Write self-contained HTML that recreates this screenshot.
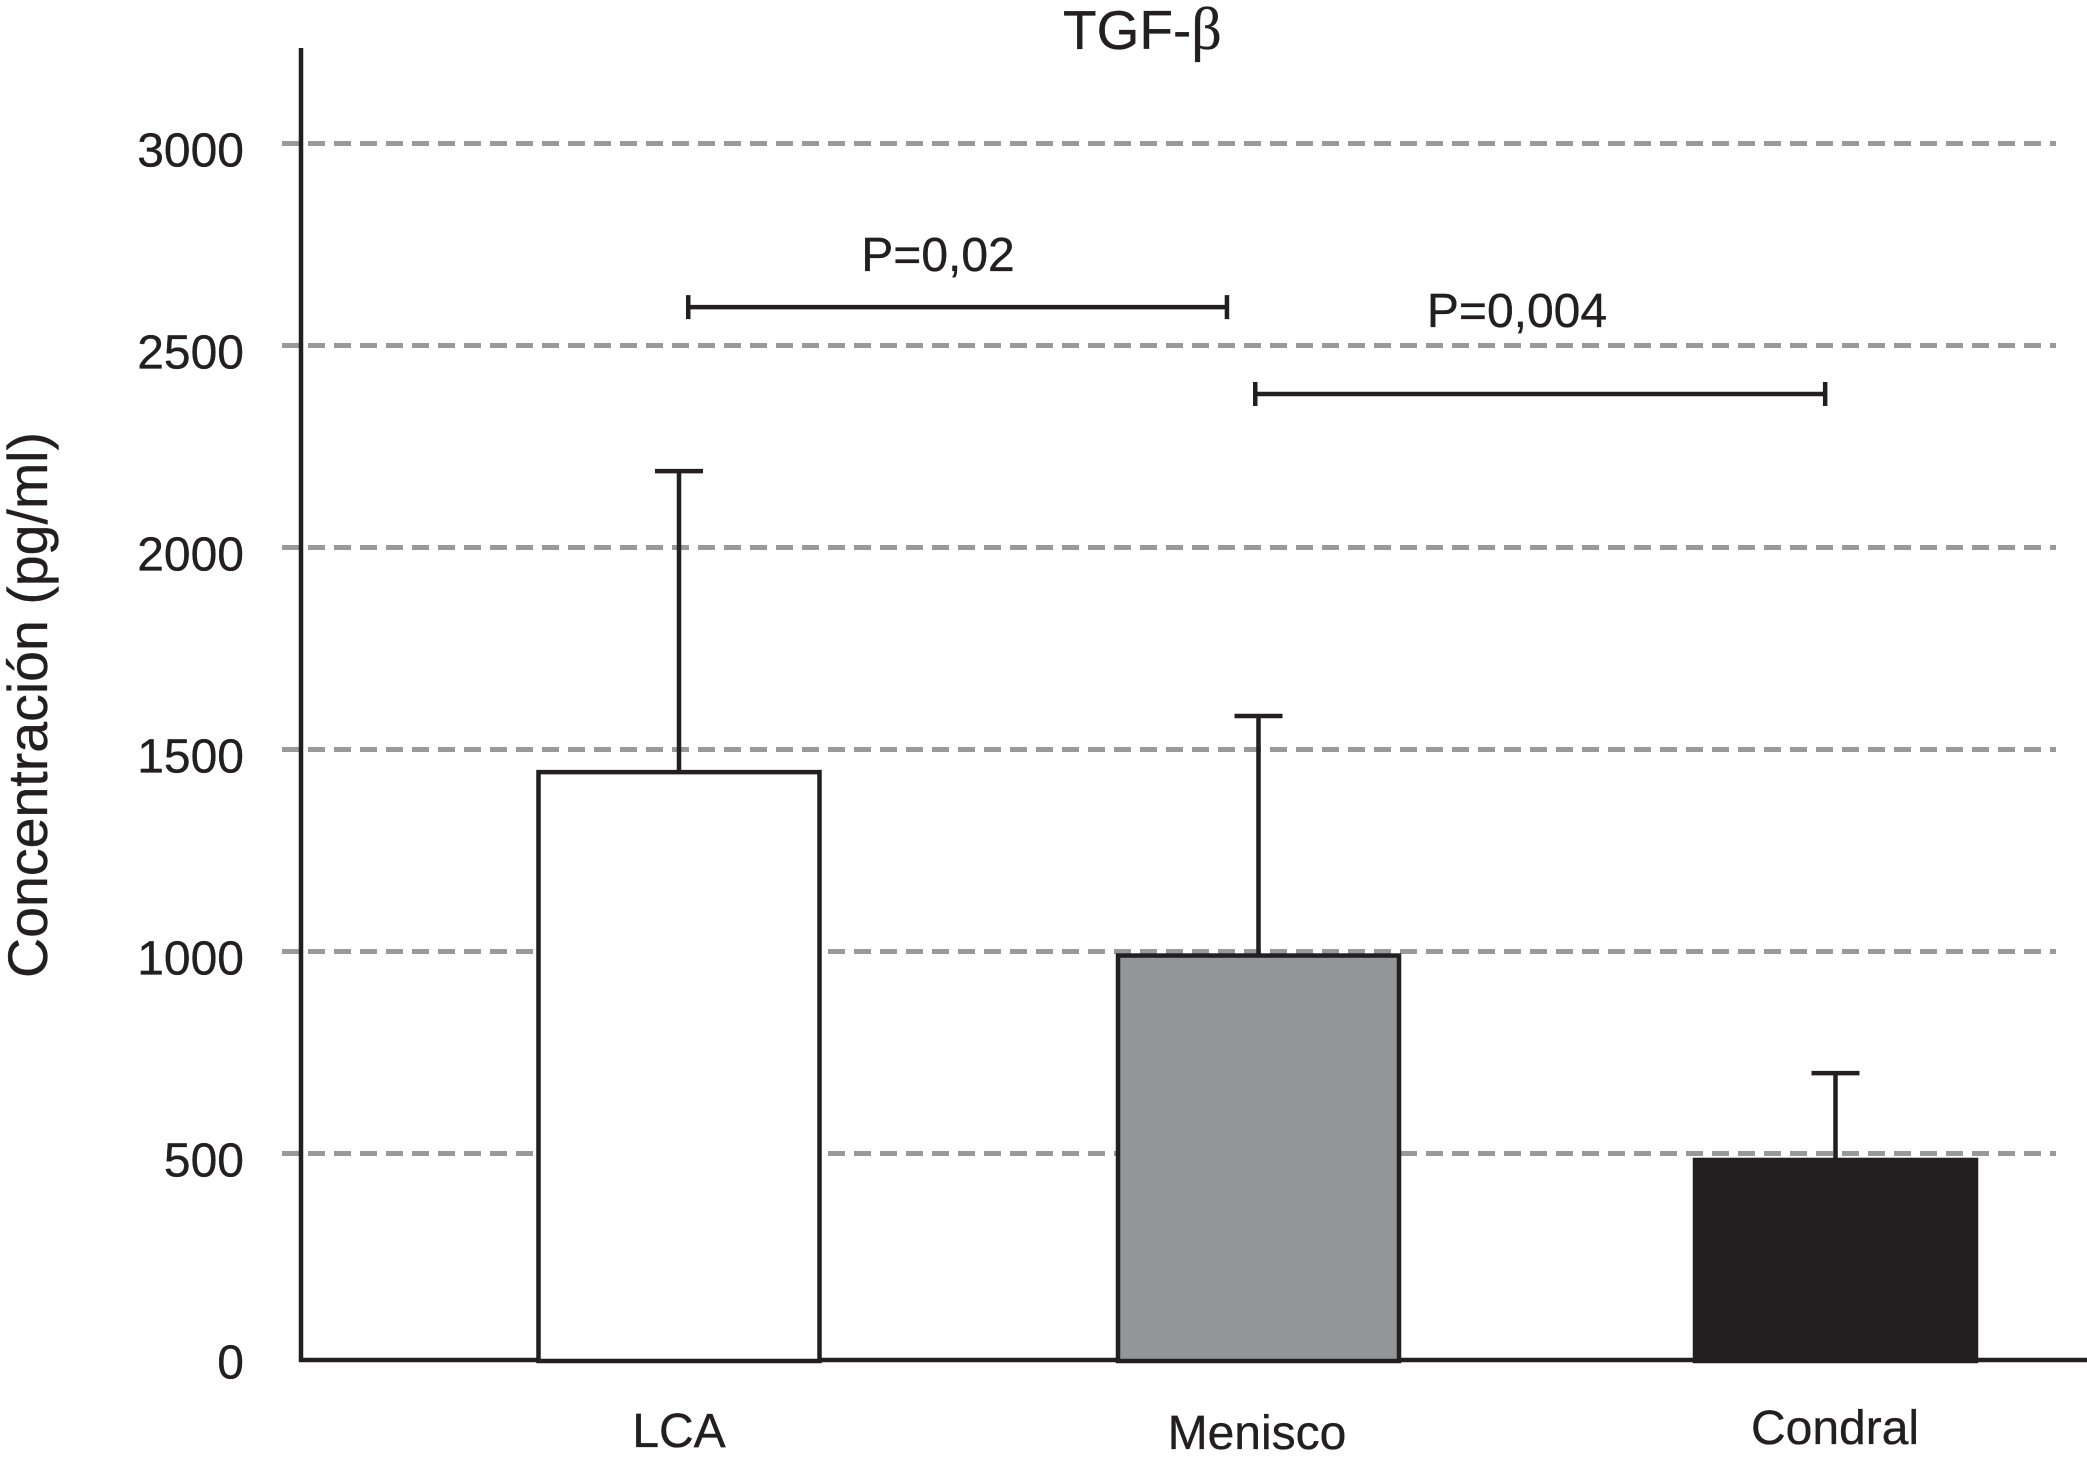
<!DOCTYPE html>
<html lang="es">
<head>
<meta charset="utf-8">
<title>TGF-β</title>
<style>
html,body{margin:0;padding:0;background:#fff;}
svg{display:block;}
text{font-family:"Liberation Sans",Arial,sans-serif;fill:#231f20;stroke:#231f20;stroke-width:.35px;}
</style>
</head>
<body>
<svg id="chart" xmlns="http://www.w3.org/2000/svg" width="2087" height="1460" viewBox="0 0 2087 1460">
  <rect x="0" y="0" width="2087" height="1460" fill="#ffffff"/>
  <text x="1063" y="49" font-size="55">TGF-<tspan style="font-family:'Liberation Serif',serif;font-size:60px">β</tspan></text>
  <text transform="translate(47,705) rotate(-90)" text-anchor="middle" font-size="55.5">Concentración (pg/ml)</text>
  <g id="grid"></g>
  <g id="ticks"></g>
  <g id="axes"></g>
  <g id="bars"></g>
  <g id="errors"></g>
  <g id="cats"></g>
  <g id="sig"></g>
  <text x="938" y="271" text-anchor="middle" font-size="48">P=0,02</text>
  <text x="1517" y="327" text-anchor="middle" font-size="48">P=0,004</text>
</svg>
<script>
const categories = ['LCA', 'Menisco', 'Condral'];
const means = [1444, 990, 484];
const errorTops = [2189, 1583, 699];
const barFills = ['#ffffff', '#939598', '#231f20'];
const tickValues = [0, 500, 1000, 1500, 2000, 2500, 3000];
const bracketStarts = [0.016, 0.997];
const bracketEnds = [0.948, 1.983];
const bracketLevels = [2595, 2380];

const INK = '#231f20';
const NS = 'http://www.w3.org/2000/svg';
const yScale = v => 1355.5 - v * 0.404;
const xScale = i => 679 + 578 * i;
const BASELINE = 1360;
const BAR_WIDTH = 281;
const CAP_WIDTH = 48;
const STROKE = 4.5;
const LABEL_SHIFT = { Menisco: 2, Condral: -3 };
const BAR_NUDGE = { Menisco: 1.5, Condral: 0.5 };

function make(tag, parent, attrs, text) {
  const el = document.createElementNS(NS, tag);
  for (const k in attrs) el.setAttribute(k, attrs[k]);
  if (text !== undefined) el.textContent = text;
  document.getElementById(parent).appendChild(el);
  return el;
}

tickValues.forEach(v => {
  if (v > 0) {
    const line = make('line', 'grid', { x1: 282, x2: 2056, y1: yScale(v), y2: yScale(v), stroke: '#98999b', 'stroke-width': 5, 'stroke-dasharray': '17 9' });
    
    
  }
  const label = make('text', 'ticks', { x: 244, y: yScale(v) + 23, 'text-anchor': 'end', 'font-size': 48 }, String(v));
  
  
});

const yAxis = make('line', 'axes', { x1: 301, x2: 301, y1: 48, y2: BASELINE + 2, stroke: INK, 'stroke-width': STROKE });


const xAxis = make('line', 'axes', { x1: 299, x2: 2087, y1: BASELINE, y2: BASELINE, stroke: INK, 'stroke-width': STROKE });



categories.forEach((c, i) => {
  const cx = xScale(i) + (BAR_NUDGE[c] || 0);
  const top = yScale(means[i]);
  const bar = make('rect', 'bars', { x: cx - BAR_WIDTH / 2, y: top, width: BAR_WIDTH, height: BASELINE + 1 - top, fill: barFills[i], stroke: INK, 'stroke-width': STROKE });
  
  

  const stem = make('line', 'errors', { x1: cx, x2: cx, y1: top, y2: yScale(errorTops[i]), stroke: INK, 'stroke-width': STROKE });
  
  
  const cap = make('line', 'errors', { x1: cx - CAP_WIDTH / 2, x2: cx + CAP_WIDTH / 2, y1: yScale(errorTops[i]), y2: yScale(errorTops[i]), stroke: INK, 'stroke-width': STROKE });
  
  

  const label = make('text', 'cats', { x: xScale(i), y: 1447 + (LABEL_SHIFT[c] || 0), 'text-anchor': 'middle', 'font-size': 48 }, c);
  
  
});

bracketStarts.forEach((s, i) => {
  const x1 = xScale(s), x2 = xScale(bracketEnds[i]), y = yScale(bracketLevels[i]);
  const span = make('line', 'sig', { x1: x1, x2: x2, y1: y, y2: y, stroke: INK, 'stroke-width': STROKE });
  
  
  [x1, x2].forEach(x => {
    const tick = make('line', 'sig', { x1: x, x2: x, y1: y - 12, y2: y + 12, stroke: INK, 'stroke-width': STROKE });
    
    
  });
});
</script>
</body>
</html>
